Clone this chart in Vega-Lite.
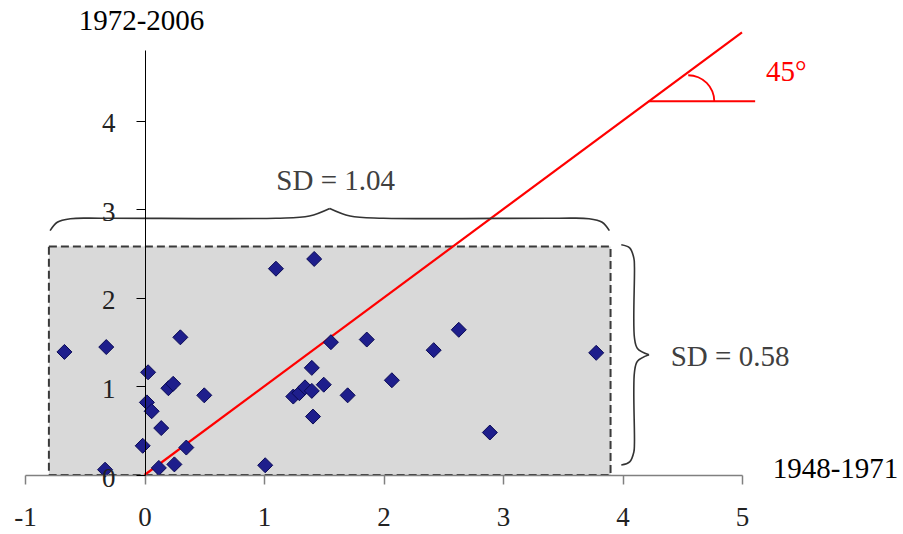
{
  "$schema": "https://vega.github.io/schema/vega-lite/v6.json",
  "width": 717,
  "height": 425,
  "autosize": {"type": "none"},
  "padding": {"left": 25, "top": 50, "right": 161, "bottom": 59},
  "background": "white",
  "config": {"view": {"stroke": null}, "font": "Liberation Serif"},
  "datasets": {
    "box": [{"x": -0.8, "x2": 3.9, "y": 0, "y2": 2.58}],
    "diag": [{"x": 0, "y": 0}, {"x": 5, "y": 5}],
    "hline": [{"x": 4.22, "x2": 5.11, "y": 4.22}],
    "angle": [{"x": 4.55, "y": 4.22}],
    "braces": [
      {"seg": "t1", "o": 1, "x": -0.79, "y": 2.76},
      {"seg": "t1", "o": 2, "x": -0.73, "y": 2.855},
      {"seg": "t1", "o": 3, "x": -0.62, "y": 2.895},
      {"seg": "t1", "o": 4, "x": -0.35, "y": 2.9},
      {"seg": "t1", "o": 5, "x": 1.1, "y": 2.9},
      {"seg": "t1", "o": 6, "x": 1.38, "y": 2.925},
      {"seg": "t1", "o": 7, "x": 1.55, "y": 3.01},
      {"seg": "t2", "o": 1, "x": 1.55, "y": 3.01},
      {"seg": "t2", "o": 2, "x": 1.72, "y": 2.925},
      {"seg": "t2", "o": 3, "x": 2.0, "y": 2.9},
      {"seg": "t2", "o": 4, "x": 3.45, "y": 2.9},
      {"seg": "t2", "o": 5, "x": 3.72, "y": 2.895},
      {"seg": "t2", "o": 6, "x": 3.83, "y": 2.855},
      {"seg": "t2", "o": 7, "x": 3.89, "y": 2.76},
      {"seg": "r1", "o": 1, "x": 3.99, "y": 2.6},
      {"seg": "r1", "o": 2, "x": 4.06, "y": 2.565},
      {"seg": "r1", "o": 3, "x": 4.095, "y": 2.45},
      {"seg": "r1", "o": 4, "x": 4.1, "y": 2.35},
      {"seg": "r1", "o": 5, "x": 4.1, "y": 1.55},
      {"seg": "r1", "o": 6, "x": 4.125, "y": 1.43},
      {"seg": "r1", "o": 7, "x": 4.222, "y": 1.357},
      {"seg": "r2", "o": 1, "x": 4.222, "y": 1.357},
      {"seg": "r2", "o": 2, "x": 4.125, "y": 1.284},
      {"seg": "r2", "o": 3, "x": 4.1, "y": 1.16},
      {"seg": "r2", "o": 4, "x": 4.1, "y": 0.36},
      {"seg": "r2", "o": 5, "x": 4.095, "y": 0.26},
      {"seg": "r2", "o": 6, "x": 4.06, "y": 0.148},
      {"seg": "r2", "o": 7, "x": 3.99, "y": 0.113}
    ],
    "pts": [
      {"x": -0.67, "y": 1.39}, {"x": -0.32, "y": 1.445}, {"x": 0.3, "y": 1.555},
      {"x": 1.1, "y": 2.33}, {"x": 1.42, "y": 2.44}, {"x": 0.03, "y": 1.16},
      {"x": 0.2, "y": 0.98}, {"x": 0.24, "y": 1.03}, {"x": 0.02, "y": 0.82},
      {"x": 0.06, "y": 0.72}, {"x": 0.5, "y": 0.9}, {"x": 0.14, "y": 0.53},
      {"x": -0.015, "y": 0.33}, {"x": 0.35, "y": 0.31}, {"x": 0.12, "y": 0.08},
      {"x": 0.25, "y": 0.12}, {"x": -0.33, "y": 0.06}, {"x": 1.01, "y": 0.11},
      {"x": 1.4, "y": 1.21}, {"x": 1.245, "y": 0.886}, {"x": 1.296, "y": 0.924},
      {"x": 1.343, "y": 0.99}, {"x": 1.4, "y": 0.95}, {"x": 1.5, "y": 1.02},
      {"x": 1.7, "y": 0.9}, {"x": 2.07, "y": 1.07}, {"x": 1.41, "y": 0.66},
      {"x": 1.56, "y": 1.5}, {"x": 1.86, "y": 1.53}, {"x": 2.42, "y": 1.41},
      {"x": 2.63, "y": 1.64}, {"x": 3.78, "y": 1.38}, {"x": 2.89, "y": 0.48}
    ],
    "sd": [
      {"x": 1.6, "y": 3.32, "text": "SD = 1.04"},
      {"x": 4.9, "y": 1.333, "text": "SD = 0.58"}
    ],
    "deg": [{"x": 5.37, "y": 4.55, "text": "45°"}]
  },
  "encoding": {
    "x": {
      "field": "x", "type": "quantitative",
      "scale": {"domain": [-1, 5], "nice": false, "zero": false},
      "axis": {
        "values": [-1, 0, 1, 2, 3, 4, 5],
        "labelExpr": "toString(datum.value)",
        "grid": false, "zindex": 1,
        "domainColor": "#808080", "domainWidth": 1.5,
        "tickColor": "#808080", "tickWidth": 1.5, "tickSize": 9,
        "labelFlush": false, "labelFont": "Liberation Serif", "labelFontSize": 27,
        "labelPadding": 20, "labelColor": "#222222",
        "title": "1948-1971", "titleX": 810, "titleY": -7,
        "titleAlign": "center", "titleBaseline": "middle",
        "titleFont": "Liberation Serif", "titleFontSize": 29,
        "titleFontWeight": "normal", "titleColor": "#000000"
      }
    },
    "y": {
      "field": "y", "type": "quantitative",
      "scale": {"domain": [0, 4.8], "nice": false, "zero": false},
      "axis": {
        "values": [0, 1, 2, 3, 4],
        "offset": -120, "grid": false, "zindex": 1,
        "domainColor": "#000000", "domainWidth": 1,
        "tickColor": "#000000", "tickWidth": 1, "tickSize": 9,
        "labelFont": "Liberation Serif", "labelFontSize": 27,
        "labelPadding": 21, "labelColor": "#222222", "labelOffset": 3,
        "title": "1972-2006", "titleAngle": 0, "titleX": -4, "titleY": -30,
        "titleAlign": "center", "titleBaseline": "middle",
        "titleFont": "Liberation Serif", "titleFontSize": 29,
        "titleFontWeight": "normal", "titleColor": "#000000"
      }
    }
  },
  "layer": [
    {
      "data": {"name": "box"},
      "mark": {"type": "rect", "fill": "#d9d9d9", "stroke": "#3a3a3a", "strokeWidth": 2, "strokeDash": [8, 4]},
      "encoding": {"x2": {"field": "x2"}, "y2": {"field": "y2"}}
    },
    {
      "data": {"name": "diag"},
      "mark": {"type": "line", "color": "#ff0000", "strokeWidth": 2.2},
      "encoding": {}
    },
    {
      "data": {"name": "hline"},
      "mark": {"type": "rule", "color": "#ff0000", "strokeWidth": 2},
      "encoding": {"x2": {"field": "x2"}}
    },
    {
      "data": {"name": "angle"},
      "mark": {"type": "arc", "radius": 27, "radius2": 25.2, "theta": 0, "theta2": 1.5708, "fill": "#ff0000"},
      "encoding": {}
    },
    {
      "data": {"name": "braces"},
      "mark": {"type": "line", "color": "#333333", "strokeWidth": 1.6, "interpolate": "catmull-rom"},
      "encoding": {
        "detail": {"field": "seg", "type": "nominal"},
        "order": {"field": "o", "type": "quantitative"}
      }
    },
    {
      "data": {"name": "pts"},
      "mark": {"type": "point", "shape": "diamond", "filled": true, "size": 225, "fill": "#1e1e8c", "stroke": "#0a0a55", "strokeWidth": 1, "opacity": 1},
      "encoding": {}
    },
    {
      "data": {"name": "sd"},
      "mark": {"type": "text", "font": "Liberation Serif", "fontSize": 29, "color": "#404040", "align": "center", "baseline": "middle"},
      "encoding": {"text": {"field": "text"}}
    },
    {
      "data": {"name": "deg"},
      "mark": {"type": "text", "font": "Liberation Serif", "fontSize": 29, "color": "#ff0000", "align": "center", "baseline": "middle"},
      "encoding": {"text": {"field": "text"}}
    }
  ]
}
